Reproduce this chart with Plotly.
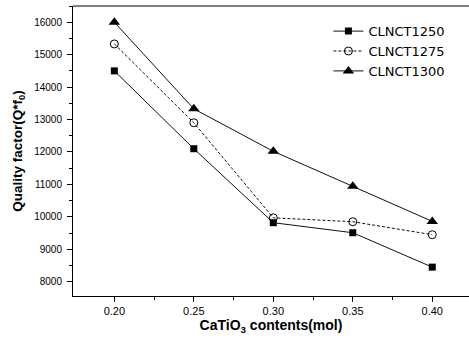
import plotly.graph_objects as go

x_vals = [0.20, 0.25, 0.30, 0.35, 0.40]
x_labels = ["0.20", "0.25", "0.30", "0.35", "0.40"]
y_ticks = [8000, 9000, 10000, 11000, 12000, 13000, 14000, 15000, 16000]
y_labels = ["8000", "9000", "10000", "11000", "12000", "13000", "14000", "15000", "16000"]
clnct1250 = [14500, 12100, 9820, 9510, 8450]
clnct1275 = [15330, 12900, 9970, 9850, 9450]
clnct1300 = [16000, 13330, 12020, 10940, 9860]
series_names = ["CLNCT1250", "CLNCT1275", "CLNCT1300"]

FONT = "Liberation Sans, Arial, sans-serif"
LFONT = "DejaVu Sans, sans-serif"

fig = go.Figure()
fig.add_trace(go.Scatter(
    x=x_vals, y=clnct1250, name=series_names[0], mode="lines+markers",
    line=dict(color="#111", width=1),
    marker=dict(symbol="square", size=7, color="#000")))
fig.add_trace(go.Scatter(
    x=x_vals, y=clnct1275, name=series_names[1], mode="lines+markers",
    line=dict(color="#111", width=1, dash="3px,2px"),
    marker=dict(symbol="circle-open", size=8, color="#000", line=dict(width=1))))
fig.add_trace(go.Scatter(
    x=x_vals, y=clnct1300, name=series_names[2], mode="lines+markers",
    line=dict(color="#111", width=1),
    marker=dict(symbol="triangle-up", size=10, color="#000")))

fig.update_layout(
    width=469, height=339,
    margin=dict(l=73, r=0, t=6, b=43),
    paper_bgcolor="white", plot_bgcolor="white",
    font=dict(family=FONT, color="#000"),
    legend=dict(x=0.645, y=0.965, xanchor="left", yanchor="top",
                font=dict(size=13, family=LFONT), bgcolor="rgba(0,0,0,0)",
                tracegroupgap=0, itemwidth=30),
    shapes=[dict(type="line", xref="paper", yref="paper", x0=0, x1=1, y0=1, y1=1,
                 line=dict(color="#000", width=1))],
)
fig.update_xaxes(
    range=[0.174, 0.4231], tickvals=x_vals, ticktext=x_labels,
    ticks="outside", ticklen=5, tickwidth=1, tickcolor="#000",
    minor=dict(tickvals=[0.225, 0.275, 0.325, 0.375], ticks="outside", ticklen=3, tickcolor="#000"),
    showline=True, linecolor="#000", linewidth=1, showgrid=False, zeroline=False,
    tickfont=dict(size=11, family=FONT),
    title=dict(text="<b>CaTiO<sub>3</sub> contents(mol)</b>", font=dict(size=14, family=FONT), standoff=2),
)
fig.update_yaxes(
    range=[7560, 16500], tickvals=y_ticks, ticktext=y_labels,
    ticks="outside", ticklen=5, tickwidth=1, tickcolor="#000",
    minor=dict(tickvals=[7500, 8500, 9500, 10500, 11500, 12500, 13500, 14500, 15500, 16500],
               ticks="outside", ticklen=3, tickcolor="#000"),
    showline=True, linecolor="#000", linewidth=1, showgrid=False, zeroline=False,
    tickfont=dict(size=10, family=FONT), ticklabelstandoff=3,
    title=dict(text="<b>Quality factor(Q*f<sub>0</sub>)</b>", font=dict(size=13.5, family=FONT), standoff=8),
)

fig.write_html("out.html")
